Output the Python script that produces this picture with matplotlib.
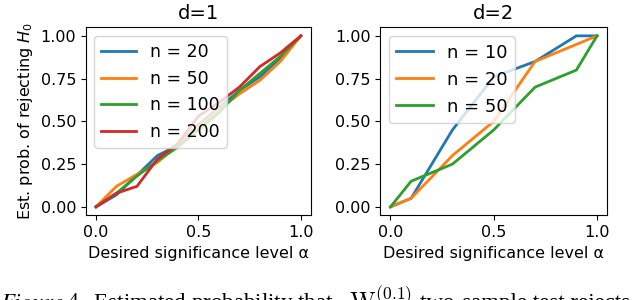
import numpy as np
import matplotlib
matplotlib.use("Agg")
from matplotlib import pyplot as plt

# d = 1 panel
alpha_d1 = [0.0, 0.1, 0.2, 0.3, 0.4, 0.5, 0.6, 0.7, 0.8, 0.9, 1.0]
n_d1 = [20, 50, 100, 200]
rej_d1 = {
    20:  [0.0, 0.07, 0.185, 0.30, 0.36, 0.48, 0.58, 0.68, 0.76, 0.87, 1.0],
    50:  [0.0, 0.12, 0.19, 0.26, 0.36, 0.47, 0.57, 0.66, 0.74, 0.85, 1.0],
    100: [0.0, 0.08, 0.18, 0.27, 0.35, 0.45, 0.55, 0.68, 0.78, 0.88, 1.0],
    200: [0.0, 0.08, 0.12, 0.28, 0.37, 0.53, 0.61, 0.70, 0.82, 0.90, 1.0],
}

# d = 2 panel
alpha_d2 = [0.0, 0.1, 0.3, 0.5, 0.7, 0.9, 1.0]
n_d2 = [10, 20, 50]
rej_d2 = {
    10: [0.0, 0.05, 0.45, 0.76, 0.85, 1.0, 1.0],
    20: [0.0, 0.05, 0.30, 0.50, 0.85, 0.95, 1.0],
    50: [0.0, 0.15, 0.25, 0.45, 0.70, 0.80, 1.0],
}

plt.rcParams['font.size'] = 11.5
plt.rcParams['mathtext.fontset'] = 'dejavusans'

fig = plt.figure(figsize=(6.4, 3.0), dpi=100)
ax1 = fig.add_axes([0.134, 0.282, 0.352, 0.627])
ax2 = fig.add_axes([0.594, 0.282, 0.355, 0.627])

for n in n_d1:
    ax1.plot(alpha_d1, rej_d1[n], lw=2, label=f"n = {n}")
for n in n_d2:
    ax2.plot(alpha_d2, rej_d2[n], lw=2, label=f"n = {n}")

for ax, t in ((ax1, "d=1"), (ax2, "d=2")):
    ax.set_title(t, fontsize=14)
    ax.set_xlabel("Desired significance level α")
    ax.set_xticks([0.0, 0.5, 1.0])
    ax.set_yticks([0.0, 0.25, 0.5, 0.75, 1.0])
ax1.legend(loc="upper left", fontsize=12.5)
ax2.legend(loc="upper left", fontsize=13)
ax1.set_ylabel("Est. prob. of rejecting $H_0$")

# caption of the paper, cut off at the bottom edge
cap_y = -0.03
fig.text(0.0, cap_y, r"$\it{Figure\ 4.}$ Estimated probability that",
         fontsize=16.5, family="Liberation Serif", ha="left", va="baseline",
         math_fontfamily="stix")
fig.text(0.545, cap_y, r"$\mathrm{W}^{(0.1)}$", fontsize=18, ha="left",
         va="baseline", math_fontfamily="cm")
fig.text(0.656, cap_y, "two-sample test rejects",
         fontsize=16.5, family="Liberation Serif", ha="left", va="baseline")

fig.savefig("out.png", dpi=100)
